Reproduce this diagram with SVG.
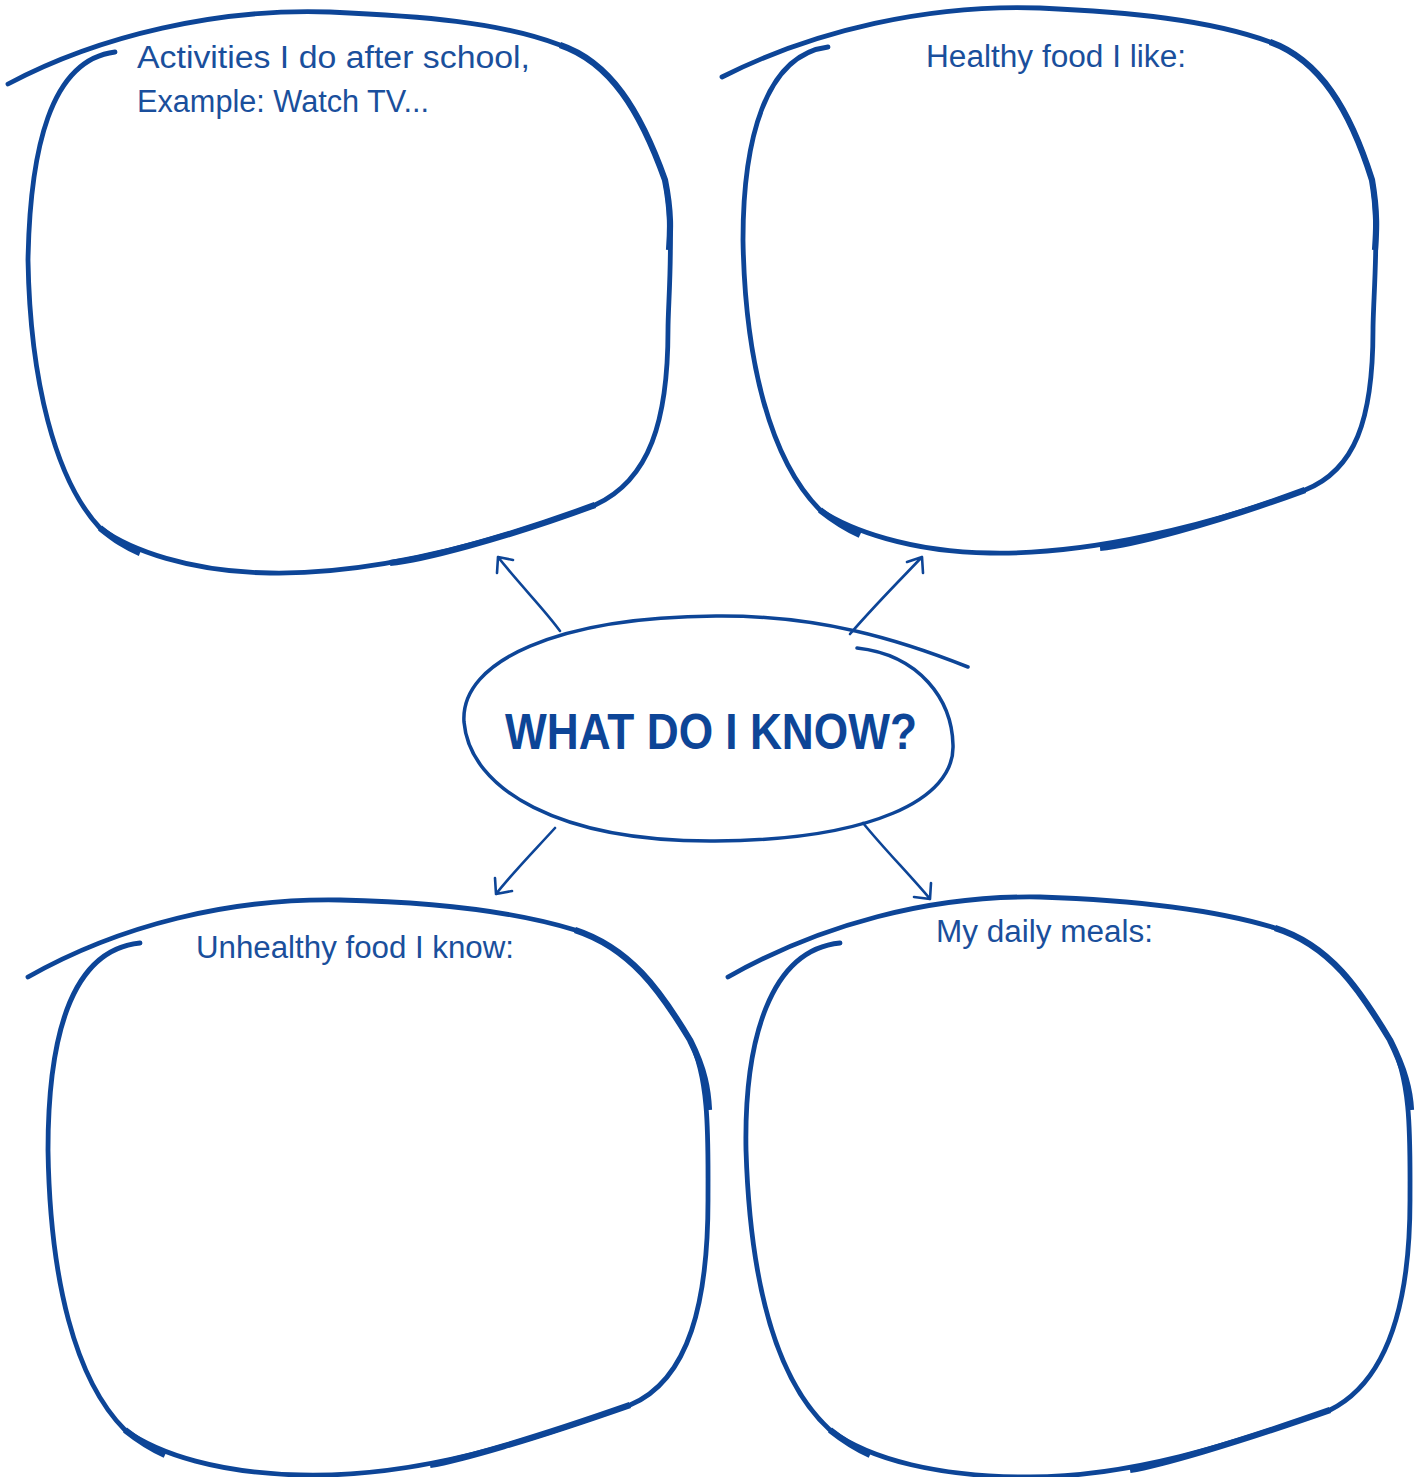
<svg xmlns="http://www.w3.org/2000/svg" width="1421" height="1477" viewBox="0 0 1421 1477">
<style>
.blob{fill:none;stroke:#0d4597;stroke-width:4.8;stroke-linecap:round;stroke-linejoin:round}
.thick{fill:none;stroke:#0d4597;stroke-width:6.2;stroke-linecap:butt;stroke-linejoin:round}
.ell{fill:none;stroke:#0d4597;stroke-width:3.5;stroke-linecap:round}
.conn{fill:none;stroke:#0d4597;stroke-width:2.6;stroke-linecap:round;stroke-linejoin:round}
.lbl{font-family:"Liberation Sans",Arial,sans-serif;font-size:31px;fill:#1a4f9c}
.title{font-family:"Liberation Sans",Arial,sans-serif;font-size:50px;font-weight:bold;fill:#0d4597}
</style>
<rect width="1421" height="1477" fill="#ffffff"/>
<g id="node-activities">
<path class="blob" d="M 8,84 C 100,35 220,8 330,12 C 420,16 500,22 560,45 C 610,62 640,110 665,180 C 675,230 668,300 668,330 C 668,420 650,480 595,505 C 500,540 380,575 270,573 C 190,572 130,550 100,528 C 55,480 30,380 28,260 C 30,150 50,60 115,52"/>
<path class="thick" d="M 560,45 C 610,62 640,110 665,180 C 672,215 670,235 669,250 M 595,505 C 500,540 420,560 390,563 M 100,528 C 115,540 125,547 140,553"/>
<text class="lbl" x="137" y="68" textLength="393" lengthAdjust="spacingAndGlyphs">Activities I do after school,</text>
<text class="lbl" x="137" y="112" textLength="292" lengthAdjust="spacingAndGlyphs">Example: Watch TV...</text>
</g>
<g id="node-healthy">
<path class="blob" d="M 722,77 C 815,30 930,4 1040,8 C 1130,12 1210,20 1270,42 C 1320,60 1350,110 1372,180 C 1380,225 1373,300 1373,330 C 1373,420 1355,470 1305,490 C 1210,525 1090,555 990,553 C 910,552 850,530 820,510 C 770,460 745,360 743,240 C 743,140 765,55 828,47"/>
<path class="thick" d="M 1270,42 C 1320,60 1350,110 1372,180 C 1378,215 1376,235 1375,250 M 1305,490 C 1210,525 1130,545 1100,548 M 820,510 C 835,522 845,528 860,535"/>
<text class="lbl" x="926" y="67" textLength="260" lengthAdjust="spacingAndGlyphs">Healthy food I like:</text>
</g>
<g id="node-unhealthy">
<path class="blob" d="M 28,977 C 120,925 230,898 340,900 C 430,902 510,910 575,930 C 630,948 660,990 690,1040 C 710,1080 708,1140 708,1200 C 708,1300 690,1380 630,1405 C 530,1440 420,1478 300,1475 C 220,1473 160,1455 125,1430 C 75,1380 50,1280 48,1150 C 48,1040 70,950 140,943"/>
<path class="thick" d="M 575,930 C 630,948 660,990 690,1040 C 705,1070 708,1090 709,1110 M 630,1405 C 530,1440 460,1460 430,1465 M 125,1430 C 140,1442 150,1448 165,1455"/>
<text class="lbl" x="196" y="958" textLength="318" lengthAdjust="spacingAndGlyphs">Unhealthy food I know:</text>
</g>
<g id="node-meals">
<path class="blob" d="M 728,977 C 820,925 930,895 1040,897 C 1130,900 1210,908 1275,928 C 1330,945 1360,990 1390,1040 C 1412,1080 1410,1140 1410,1200 C 1410,1300 1390,1380 1330,1410 C 1230,1445 1130,1477 1030,1477 C 940,1477 870,1460 830,1430 C 775,1380 750,1280 746,1150 C 744,1040 770,950 840,943"/>
<path class="thick" d="M 1275,928 C 1330,945 1360,990 1390,1040 C 1405,1070 1410,1090 1411,1110 M 1330,1410 C 1230,1445 1160,1465 1130,1470 M 830,1430 C 845,1442 855,1448 870,1455"/>
<text class="lbl" x="936" y="942" textLength="217" lengthAdjust="spacingAndGlyphs">My daily meals:</text>
</g>
<g id="node-center">
<path class="ell" d="M 857,648 C 920,655 952,700 953,745 C 955,800 870,840 715,841 C 560,842 470,790 464,722 C 460,660 560,617 716,616 C 820,615 900,640 968,667"/>
<text class="title" x="505" y="749" textLength="412" lengthAdjust="spacingAndGlyphs">WHAT DO I KNOW?</text>
</g>
<g id="connectors">
<path class="conn" d="M 560,631 C 545,610 520,585 498,557 M 513,560 L 498,557 L 497,573"/>
<path class="conn" d="M 850,634 C 875,605 900,580 922,557 M 907,562 L 922,557 L 923,573"/>
<path class="conn" d="M 555,828 C 535,850 515,870 496,894 M 495,878 L 496,894 L 512,891"/>
<path class="conn" d="M 863,823 C 885,850 910,875 930,899 M 914,897 L 930,899 L 931,883"/>
</g>
</svg>
